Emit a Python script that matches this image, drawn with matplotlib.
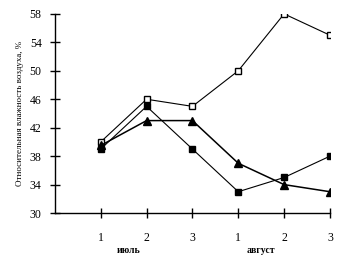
import matplotlib
matplotlib.use("Agg")
import matplotlib.pyplot as plt

plt.rcParams["font.family"] = ["Liberation Serif", "DejaVu Serif"]

decades = ["1", "2", "3", "1", "2", "3"]
months = ["июль", "август"]
month_pos = [1.6, 4.5]
open_sq = [40, 46, 45, 50, 58, 55]
filled_sq = [39, 45, 39, 33, 35, 38]
triangle = [39.5, 43, 43, 37, 34, 33]
y_ticks = [30, 34, 38, 42, 46, 50, 54, 58]

x = list(range(1, len(decades) + 1))

fig = plt.figure(figsize=(3.43, 2.67), dpi=100)
ax = fig.add_axes([0.16, 0.202, 0.802, 0.746])

ax.plot(x, open_sq, color="black", linewidth=0.8, marker="s", markersize=4.5,
        markerfacecolor="white", markeredgecolor="black", markeredgewidth=1.0)
ax.plot(x, filled_sq, color="black", linewidth=0.8, marker="s", markersize=5,
        markerfacecolor="black", markeredgecolor="black")
ax.plot(x, triangle, color="black", linewidth=1.1, marker="^", markersize=5.5,
        markerfacecolor="black", markeredgecolor="black")

ax.set_xlim(0, 6)
ax.set_ylim(30, 58)
ax.set_xticks(x)
ax.set_xticklabels(decades)
ax.set_yticks(y_ticks)
ax.tick_params(axis="both", direction="inout", length=7, width=1, labelsize=8.5, pad=10)
ax.tick_params(axis="y", pad=6)

for s in ["top", "right"]:
    ax.spines[s].set_visible(False)
for s in ["left", "bottom"]:
    ax.spines[s].set_linewidth(1.0)

ax.set_ylabel("Относительная влажность воздуха, %", fontsize=6.5, labelpad=4)

# подписи месяцев под номерами декад
for name, pos in zip(months, month_pos):
    ax.text(pos, -0.19, name, transform=ax.get_xaxis_transform(), fontsize=7,
            fontweight="bold", ha="center", va="center")

fig.savefig("out.png", dpi=100)
